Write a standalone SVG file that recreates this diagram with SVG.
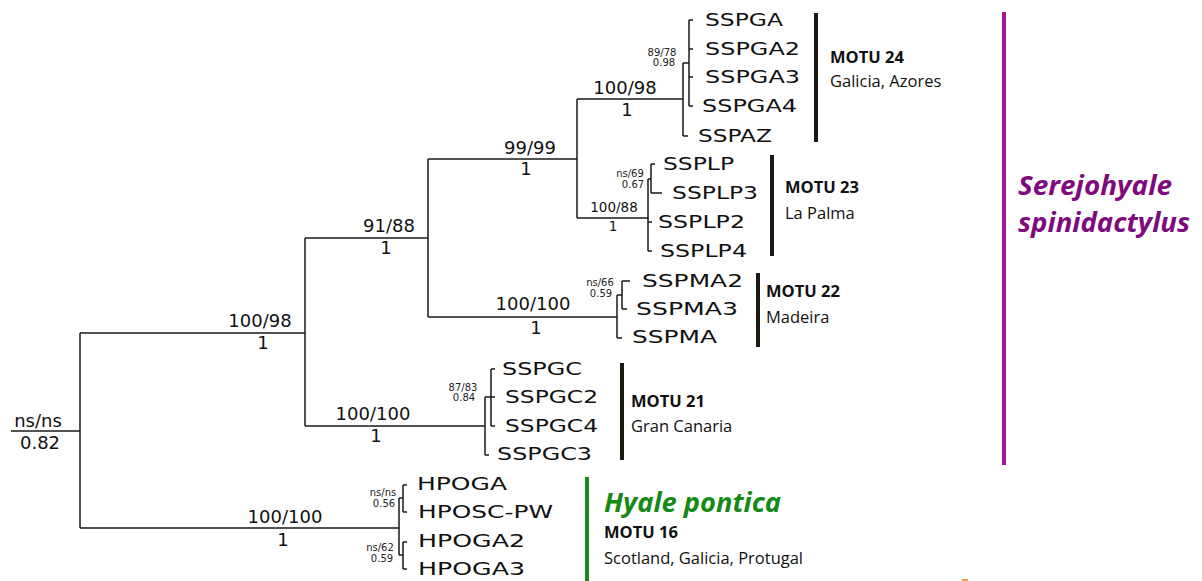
<svg xmlns="http://www.w3.org/2000/svg" width="1202" height="581" viewBox="0 0 1202 581">
<style>
.br{fill:none;stroke:#1a1a1a;stroke-width:1.5}
.tx{font-family:"DejaVu Sans",Verdana,sans-serif;font-size:18.5px;fill:#111}
.bl{font-family:"DejaVu Sans",Verdana,sans-serif;font-size:18px;fill:#111;text-anchor:middle}
.bm{font-family:"DejaVu Sans",Verdana,sans-serif;font-size:13.5px;fill:#111;text-anchor:middle}
.sm{font-family:"DejaVu Sans",Verdana,sans-serif;font-size:10px;fill:#222;text-anchor:middle}
.motu{font-family:"Open Sans","Liberation Sans",sans-serif;font-size:16.5px;font-weight:bold;fill:#111}
.loc{font-family:"Open Sans","Liberation Sans",sans-serif;font-size:16.5px;fill:#111}
.bar{fill:#1a1a12}
.sp{font-family:"Open Sans","Liberation Sans",sans-serif;font-weight:bold;font-style:italic;font-size:26px}
</style>
<rect width="1202" height="581" fill="#fff"/>
<g id="connectors">
<path class="br" d="M11,431H80M80,333V528M80,333H305M80,528H399"/>
<path class="br" d="M305,238V426M305,238H428M305,426H485"/>
<path class="br" d="M428,159V317M428,159H577M428,317H617"/>
<path class="br" d="M577,99V218M577,99H683M577,218H648"/>
<path class="br" d="M683,63V136M683,63H689M683,136H688M689,20V106M689,20H693M689,49H693M689,77H693M689,106H693"/>
<path class="br" d="M648,179V251M648,179H651M648,222H652M648,251H652M651,164V193M651,164H655M651,193H662"/>
<path class="br" d="M617,295V338M617,295H622M617,338H622M622,281V309M622,281H630M622,309H627"/>
<path class="br" d="M485,397V455M485,397H491M485,455H489M491,369V426M491,369H495M491,397H495M491,426H495"/>
<path class="br" d="M399,498V555M399,498H403M399,555H403M403,485V512M403,485H407M403,512H407M403,542H407M403,542V569M403,569H407"/>
</g>
<g id="branch-labels">
<text class="bl" x="38" y="427">ns/ns</text><text class="bl" x="40" y="449">0.82</text>
<text class="bl" x="260" y="327">100/98</text><text class="bl" x="263" y="349">1</text>
<text class="bl" x="389" y="232">91/88</text><text class="bl" x="386" y="254">1</text>
<text class="bl" x="530" y="154">99/99</text><text class="bl" x="526" y="175">1</text>
<text class="bl" x="533" y="310">100/100</text><text class="bl" x="536" y="334">1</text>
<text class="bl" x="373" y="420">100/100</text><text class="bl" x="376" y="442">1</text>
<text class="bl" x="625" y="94">100/98</text><text class="bl" x="627" y="116">1</text>
<text class="bm" x="614" y="212">100/88</text><text class="bm" x="613" y="231">1</text>
<text class="bl" x="285" y="523">100/100</text><text class="bl" x="283" y="546">1</text>
<text class="sm" x="662" y="56">89/78</text><text class="sm" x="664" y="66">0.98</text>
<text class="sm" x="630" y="177">ns/69</text><text class="sm" x="633" y="188">0.67</text>
<text class="sm" x="600" y="286">ns/66</text><text class="sm" x="601" y="297">0.59</text>
<text class="sm" x="463" y="391">87/83</text><text class="sm" x="464" y="401">0.84</text>
<text class="sm" x="383" y="496">ns/ns</text><text class="sm" x="384" y="507">0.56</text>
<text class="sm" x="380" y="551">ns/62</text><text class="sm" x="382" y="562">0.59</text>
</g>
<g id="motu24">
<text class="tx" x="705" y="26" textLength="78" lengthAdjust="spacingAndGlyphs">SSPGA</text>
<text class="tx" x="705" y="55" textLength="95" lengthAdjust="spacingAndGlyphs">SSPGA2</text>
<text class="tx" x="705" y="83" textLength="95" lengthAdjust="spacingAndGlyphs">SSPGA3</text>
<text class="tx" x="702" y="112" textLength="95" lengthAdjust="spacingAndGlyphs">SSPGA4</text>
<text class="tx" x="698" y="142" textLength="74" lengthAdjust="spacingAndGlyphs">SSPAZ</text>
<rect class="bar" x="814" y="13" width="4" height="129"/>
<text class="motu" x="830" y="63">MOTU 24</text>
<text class="loc" x="830" y="87">Galicia, Azores</text>
</g>
<g id="motu23">
<text class="tx" x="663" y="170" textLength="71" lengthAdjust="spacingAndGlyphs">SSPLP</text>
<text class="tx" x="672" y="199" textLength="86" lengthAdjust="spacingAndGlyphs">SSPLP3</text>
<text class="tx" x="658" y="228" textLength="87" lengthAdjust="spacingAndGlyphs">SSPLP2</text>
<text class="tx" x="660" y="257" textLength="87" lengthAdjust="spacingAndGlyphs">SSPLP4</text>
<rect class="bar" x="770" y="155" width="4" height="101"/>
<text class="motu" x="785" y="193">MOTU 23</text>
<text class="loc" x="785" y="219">La Palma</text>
</g>
<g id="motu22">
<text class="tx" x="642" y="287" textLength="101" lengthAdjust="spacingAndGlyphs">SSPMA2</text>
<text class="tx" x="636" y="315" textLength="102" lengthAdjust="spacingAndGlyphs">SSPMA3</text>
<text class="tx" x="632" y="343" textLength="85" lengthAdjust="spacingAndGlyphs">SSPMA</text>
<rect class="bar" x="756" y="273" width="4" height="74"/>
<text class="motu" x="766" y="297">MOTU 22</text>
<text class="loc" x="766" y="323">Madeira</text>
</g>
<g id="motu21">
<text class="tx" x="502" y="375" textLength="80" lengthAdjust="spacingAndGlyphs">SSPGC</text>
<text class="tx" x="505" y="403" textLength="93" lengthAdjust="spacingAndGlyphs">SSPGC2</text>
<text class="tx" x="505" y="432" textLength="93" lengthAdjust="spacingAndGlyphs">SSPGC4</text>
<text class="tx" x="497" y="460" textLength="95" lengthAdjust="spacingAndGlyphs">SSPGC3</text>
<rect class="bar" x="620" y="363" width="4" height="97"/>
<text class="motu" x="631" y="407">MOTU 21</text>
<text class="loc" x="631" y="432">Gran Canaria</text>
</g>
<g id="motu16">
<text class="tx" x="417" y="490" textLength="90" lengthAdjust="spacingAndGlyphs">HPOGA</text>
<text class="tx" x="418" y="518" textLength="135" lengthAdjust="spacingAndGlyphs">HPOSC-PW</text>
<text class="tx" x="418" y="547" textLength="107" lengthAdjust="spacingAndGlyphs">HPOGA2</text>
<text class="tx" x="418" y="575" textLength="107" lengthAdjust="spacingAndGlyphs">HPOGA3</text>
<rect x="585" y="477" width="4" height="104" fill="#1b8a1b"/>
<text class="sp" x="604" y="512" fill="#168a16" textLength="177" lengthAdjust="spacingAndGlyphs">Hyale pontica</text>
<text class="motu" x="604" y="538">MOTU 16</text>
<text class="loc" x="604" y="564">Scotland, Galicia, Protugal</text>
</g>
<g id="serejohyale">
<rect x="1002" y="12" width="4" height="453" fill="#a3179e"/>
<text class="sp" x="1018" y="195" fill="#7e0a7e" textLength="154" lengthAdjust="spacingAndGlyphs">Serejohyale</text>
<text class="sp" x="1018" y="232" fill="#7e0a7e" textLength="172" lengthAdjust="spacingAndGlyphs">spinidactylus</text>
</g>
<rect x="962" y="579" width="6" height="2" fill="#f0a040"/>
</svg>
